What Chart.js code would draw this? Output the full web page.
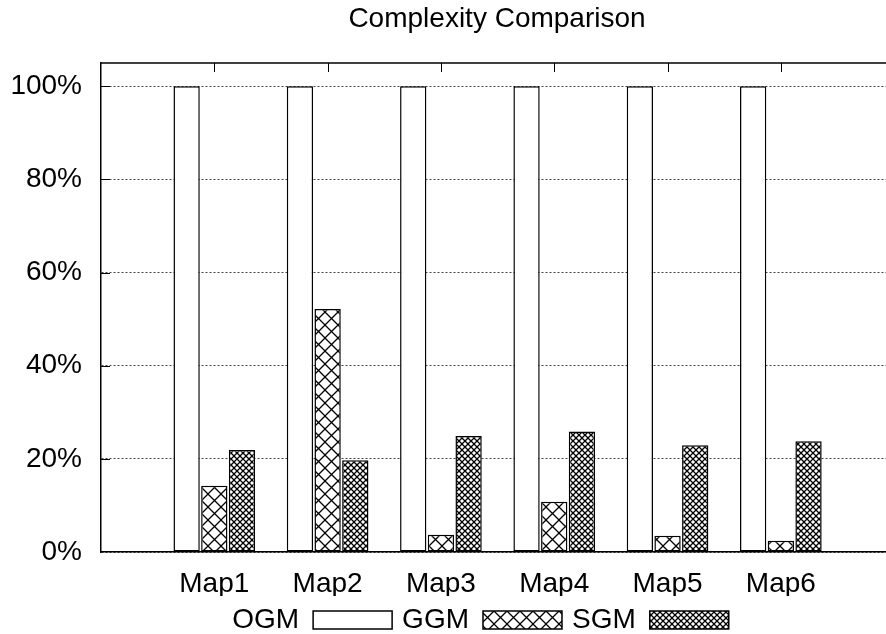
<!DOCTYPE html>
<html>
<head>
<meta charset="utf-8">
<script src="https://cdn.jsdelivr.net/npm/chart.js@4"></script>
<style>
html, body { margin: 0; padding: 0; overflow: hidden; background: #fff; }
#wrap { width: 961px; height: 634px; }
</style>
</head>
<body>
<div id="wrap"><canvas id="chart"></canvas></div>
<script>
// data
const maps = ['Map1', 'Map2', 'Map3', 'Map4', 'Map5', 'Map6'];
const ogm = [100, 100, 100, 100, 100, 100];
const ggm = [14.2, 52.2, 3.7, 10.8, 3.5, 2.4];
const sgm = [21.9, 19.7, 24.9, 25.9, 22.9, 23.8];
const yTicks = [0, 20, 40, 60, 80, 100];
const titleText = 'Complexity Comparison';

const FONT = '"Liberation Sans", Arial, sans-serif';

// crosshatch fill, white underneath so the grid does not show through
function hatch(step) {
    const c = document.createElement('canvas');
    c.width = step; c.height = step;
    const g = c.getContext('2d');
    g.fillStyle = '#fff';
    g.fillRect(0, 0, step, step);
    g.strokeStyle = '#000';
    g.lineWidth = 1.3;
    g.beginPath();
    g.moveTo(-1, -1); g.lineTo(step + 1, step + 1);
    g.moveTo(step + 1, -1); g.lineTo(-1, step + 1);
    g.stroke();
    return g.createPattern(c, 'repeat');
}

function pts(arr) { return arr.map((v, i) => ({ x: i, y: v })); }

// gnuplot-ish frame: top border, inward tics, title
const framePlugin = {
    id: 'frame',
    afterDatasetsDraw(c) {
        const { ctx, chartArea: a, scales } = c;
        ctx.save();
        ctx.strokeStyle = '#000';
        ctx.lineWidth = 1.5;
        ctx.beginPath();
        ctx.moveTo(a.left, a.top); ctx.lineTo(a.right, a.top);
        ctx.stroke();
        ctx.lineWidth = 1;
        ctx.beginPath();
        yTicks.forEach(v => {
            if (v === 0) return;
            const y = Math.round(scales.y.getPixelForValue(v)) + 0.5;
            ctx.moveTo(a.left, y); ctx.lineTo(a.left + 9, y);
        });
        maps.forEach((m, i) => {
            const x = Math.round(scales.x.getPixelForValue(i)) + 0.5;
            ctx.moveTo(x, a.top); ctx.lineTo(x, a.top + 9);
        });
        ctx.stroke();
        ctx.restore();
    },
    afterDraw(c) {
        const ctx = c.ctx;
        ctx.save();
        ctx.font = '28px ' + FONT;
        ctx.fillStyle = '#000';
        ctx.textAlign = 'center';
        ctx.textBaseline = 'middle';
        ctx.fillText(titleText, 497, 19);
        ctx.restore();
    }
};

const chart = new Chart(document.getElementById('chart'), {
    type: 'bar',
    data: {
        datasets: [
            { label: 'OGM', data: pts(ogm), backgroundColor: '#fff' },
            { label: 'GGM', data: pts(ggm), backgroundColor: hatch(13) },
            { label: 'SGM', data: pts(sgm), backgroundColor: hatch(6) }
        ]
    },
    options: {
        responsive: true, maintainAspectRatio: false, animation: false,
        layout: { padding: { top: 63, left: 0, right: 0, bottom: 0 } },
        datasets: {
            bar: {
                categoryPercentage: 0.733, barPercentage: 0.95,
                borderWidth: 1.5, borderColor: '#000', borderSkipped: false
            }
        },
        plugins: {
            title: { display: false },
            tooltip: { enabled: false },
            legend: {
                position: 'bottom', rtl: true, reverse: true, maxHeight: 38,
                labels: {
                    boxWidth: 79, boxHeight: 18, padding: 10, color: '#000',
                    font: { family: FONT, size: 28 }
                }
            }
        },
        scales: {
            x: {
                type: 'linear', min: -1, max: 6.59, offset: false,
                afterBuildTicks: s => { s.ticks = maps.map((m, i) => ({ value: i })); },
                afterFit: s => { s.height = 44; },
                grid: { display: false, drawTicks: false },
                border: { color: '#000', width: 1.5 },
                ticks: {
                    callback: v => maps[v] ?? '',
                    autoSkip: false, maxRotation: 0, padding: 15,
                    color: '#000', font: { family: FONT, size: 28 }
                }
            },
            y: {
                min: 0, max: 105,
                afterBuildTicks: s => { s.ticks = yTicks.map(v => ({ value: v })); },
                afterFit: s => { s.width = 101; },
                grid: { color: '#444', lineWidth: 1, drawTicks: false },
                border: { color: '#000', width: 1.5, dash: [2, 2] },
                ticks: {
                    callback: v => v + '%',
                    padding: 19,
                    color: '#000', font: { family: FONT, size: 28 }
                }
            }
        }
    },
    plugins: [framePlugin]
});
</script>
</body>
</html>
